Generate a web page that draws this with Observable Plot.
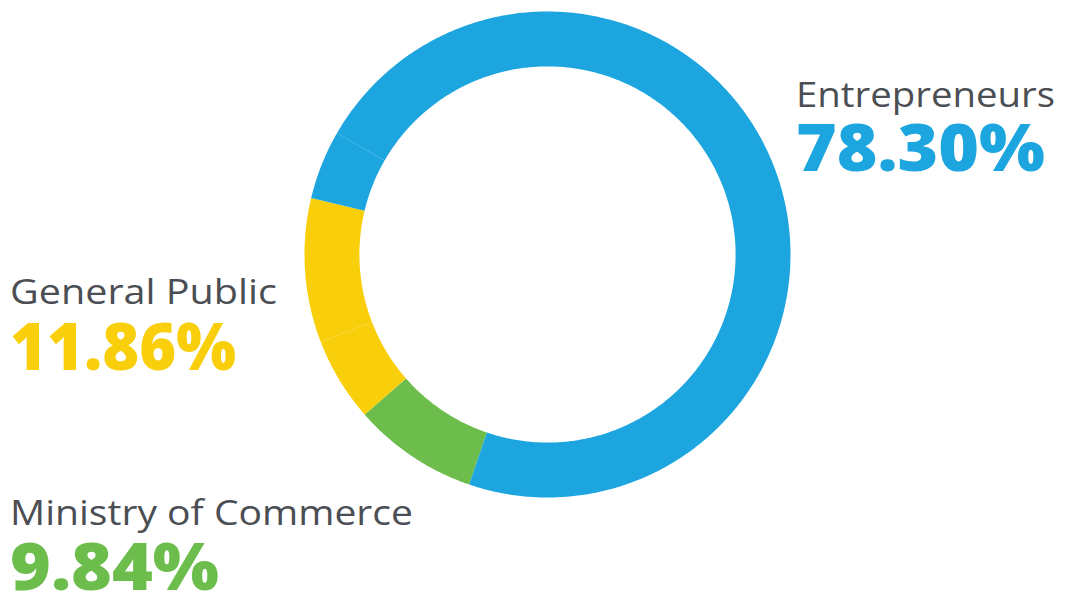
<!DOCTYPE html>
<html><head><meta charset="utf-8">
<script src="https://cdn.jsdelivr.net/npm/d3@7"></script>
<script src="https://cdn.jsdelivr.net/npm/@observablehq/plot@0.6"></script>
<style>
html,body{margin:0;padding:0;background:#fff;}
#wrap{position:relative;width:1067px;height:594px;overflow:hidden;}
#wrap svg{display:block;}
#labels{position:absolute;left:0;top:0;}
</style></head><body><div id="wrap"></div>
<script>
// Slices of the ring as drawn (clockwise, starting at the green slice), % of full circle
const sliceCategories = ["Ministry of Commerce", "General Public", "General Public", "Entrepreneurs", "Entrepreneurs"];
const sliceShares = [8.33, 5.61, 9.58, 4.58, 71.90];
const startAngleDeg = 198.8;

// Legend / annotation labels
const labelCategories = ["Entrepreneurs", "General Public", "Ministry of Commerce"];
const labelValues = ["78.30%", "11.86%", "9.84%"];
const categoryColors = ["#1ca5de", "#f9cf0c", "#6cbd4b"];

const innerRatio = 0.774;

// Build ring polygons from slice shares
let acc = startAngleDeg;
const pts = [];
sliceShares.forEach((v, i) => {
  const a0 = acc, a1 = acc + v / 100 * 360; acc = a1;
  const n = Math.max(2, Math.ceil((a1 - a0) / 0.5));
  for (let k = 0; k <= n; k++) {
    const a = (a0 + (a1 - a0) * k / n) * Math.PI / 180;
    pts.push({slice: i, cat: sliceCategories[i], x: Math.sin(a), y: Math.cos(a)});
  }
  for (let k = n; k >= 0; k--) {
    const a = (a0 + (a1 - a0) * k / n) * Math.PI / 180;
    pts.push({slice: i, cat: sliceCategories[i], x: innerRatio * Math.sin(a), y: innerRatio * Math.cos(a)});
  }
});

const chart = Plot.plot({
  width: 1067, height: 594,
  marginLeft: 304, marginRight: 277, marginTop: 11, marginBottom: 97,
  x: {domain: [-1, 1], axis: null},
  y: {domain: [-1, 1], axis: null},
  color: {domain: labelCategories, range: categoryColors},
  marks: [
    Plot.line(pts, {x: "x", y: "y", z: "slice", fill: "cat", stroke: "none", curve: "linear"})
  ]
});
const wrap = document.getElementById("wrap");
wrap.appendChild(chart);

// Labels overlay
const labelLayout = [
  {x: 796, nameBase: 106.5, nameW: 259, valBase: 171, valW: 249},
  {x: 10, nameBase: 303.5, nameW: 267, valBase: 370, valW: 226},
  {x: 10, nameBase: 525, nameW: 403, valBase: 590, valW: 209}
];
const svg = d3.select(wrap).append("svg").attr("id", "labels").attr("width", 1067).attr("height", 594);
labelCategories.forEach((c, i) => {
  const L = labelLayout[i];
  svg.append("text").attr("x", L.x).attr("y", L.nameBase)
    .attr("font-family", "'Open Sans', sans-serif").attr("font-size", 34.5).attr("fill", "#4b4e53")
    .attr("textLength", L.nameW).attr("lengthAdjust", "spacingAndGlyphs").text(c);
  svg.append("text").attr("x", L.x).attr("y", L.valBase)
    .attr("font-family", "'Open Sans', sans-serif").attr("font-weight", 800).attr("font-size", 66)
    .attr("fill", categoryColors[i])
    .attr("textLength", L.valW).attr("lengthAdjust", "spacingAndGlyphs").text(labelValues[i]);
});
</script></body></html>
